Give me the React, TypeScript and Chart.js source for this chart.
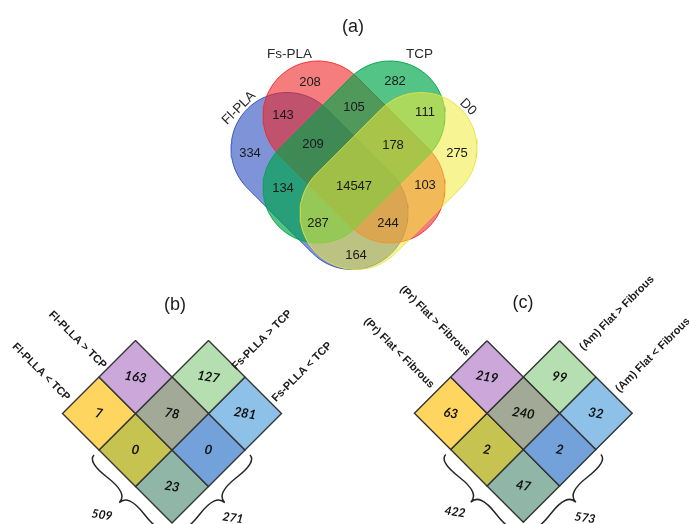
import React, { useEffect, useRef } from "react";
import { Chart, registerables } from "chart.js";
Chart.register(...registerables);

const W = 689;
const H = 524;

// ---------- Panel (a): four-set Venn ----------
const vennTitle = "(a)";
const vennSetNames = ["Fl-PLA", "Fs-PLA", "TCP", "D0"];
const vennRegionNames = [
  "Fl-PLA only", "Fs-PLA only", "TCP only", "D0 only",
  "Fl∩Fs", "Fs∩TCP", "TCP∩D0", "Fl∩Fs∩TCP", "Fs∩TCP∩D0",
  "Fl∩TCP", "All four", "Fs∩D0", "Fl∩TCP∩D0", "Fl∩Fs∩D0", "Fl∩D0",
];
const vennCounts = [334, 208, 282, 275, 143, 105, 111, 209, 178, 134, 14547, 103, 287, 244, 164];

// ---------- Panel (b) ----------
const panelBTitle = "(b)";
const panelBLabels = ["Fl-PLLA > TCP", "Fl-PLLA < TCP", "Fs-PLLA > TCP", "Fs-PLLA < TCP"];
const panelBCells = [163, 7, 78, 0, 127, 281, 0, 23];
const panelBTotals = [509, 271];

// ---------- Panel (c) ----------
const panelCTitle = "(c)";
const panelCLabels = ["(Pr) Flat > Fibrous", "(Pr) Flat < Fibrous", "(Am) Flat > Fibrous", "(Am) Flat < Fibrous"];
const panelCCells = [219, 63, 240, 2, 99, 32, 2, 47];
const panelCTotals = [422, 573];

// ---------- layout (positions / styles) ----------
const vennShapes = [
  { c1: [287, 148.5], c2: [352, 213.5], r: 56, fill: "rgba(40,75,190,0.6)", stroke: "rgba(40,75,190,0.9)", order: 10 },
  { c1: [318, 116], c2: [390, 188], r: 55, fill: "rgba(238,38,38,0.6)", stroke: "rgba(238,38,38,0.9)", order: 9 },
  { c1: [390, 116], c2: [318, 188], r: 55, fill: "rgba(0,165,75,0.67)", stroke: "rgba(0,165,75,0.95)", order: 8 },
  { c1: [421, 148.5], c2: [356, 213.5], r: 56, fill: "rgba(240,235,60,0.55)", stroke: "rgba(230,225,60,0.9)", order: 7 },
];
const vennCountPos = [
  [250, 153], [310, 82], [395, 81], [457, 153], [283, 115], [354, 107], [425, 112],
  [313, 144], [393, 145], [283, 188], [354, 186], [425, 185], [318, 223], [388, 223], [356, 255],
];
const vennSetLabelPos = [
  { x: 239, y: 108, rot: -45 },
  { x: 289.5, y: 54, rot: 0 },
  { x: 419.5, y: 54.5, rot: 0 },
  { x: 468, y: 107, rot: 45 },
];

const cellGrid = [[0, 0], [0, 1], [1, 0], [1, 1], [1, -1], [2, -1], [2, 0], [2, 1]];
const cellColors = ["#cca8da", "#fdd55f", "#a2aa97", "#c6c350", "#b6dfb1", "#8ec1e7", "#73a2db", "#8fb6a6"];

const panels = [
  {
    title: panelBTitle, titlePos: [175, 305], origin: [135.5, 377], a: 36.5,
    labels: panelBLabels, cells: panelBCells, totals: panelBTotals,
    labelPos: [
      { x: 77.5, y: 340, rot: 45 }, { x: 41, y: 372, rot: 45 },
      { x: 262, y: 340, rot: -45 }, { x: 302, y: 372, rot: -45 },
    ],
    totalPos: [[102, 515], [233, 518]],
  },
  {
    title: panelCTitle, titlePos: [523, 303], origin: [487, 377], a: 36.3,
    labels: panelCLabels, cells: panelCCells, totals: panelCTotals,
    labelPos: [
      { x: 435, y: 321, rot: 45 }, { x: 399, y: 353, rot: 45 },
      { x: 617, y: 313, rot: -45 }, { x: 653, y: 355, rot: -45 },
    ],
    totalPos: [[455, 512], [585, 518]],
  },
];

function stadium(c1: number[], c2: number[], r: number, n = 40) {
  const th = Math.atan2(c2[1] - c1[1], c2[0] - c1[0]);
  const pts: { x: number; y: number }[] = [];
  for (let i = 0; i <= n; i++) {
    const ang = th + Math.PI / 2 + (Math.PI * i) / n;
    pts.push({ x: c1[0] + r * Math.cos(ang), y: c1[1] + r * Math.sin(ang) });
  }
  for (let i = 0; i <= n; i++) {
    const ang = th - Math.PI / 2 + (Math.PI * i) / n;
    pts.push({ x: c2[0] + r * Math.cos(ang), y: c2[1] + r * Math.sin(ang) });
  }
  pts.push({ ...pts[0] });
  return pts;
}

function cellCenter(p: any, k: number) {
  const [i, j] = cellGrid[k];
  return [p.origin[0] + (i - j) * p.a, p.origin[1] + (i + j) * p.a];
}

function diamond(cx: number, cy: number, a: number) {
  return [
    { x: cx, y: cy - a }, { x: cx + a, y: cy }, { x: cx, y: cy + a }, { x: cx - a, y: cy }, { x: cx, y: cy - a },
  ];
}

const polyFillPlugin = {
  id: "polyFill",
  beforeDatasetDraw(chart: any, args: any) {
    const ds = chart.data.datasets[args.index];
    if (!ds.polyFill) return;
    const pts = args.meta.data;
    const ctx = chart.ctx;
    ctx.save();
    ctx.beginPath();
    pts.forEach((p: any, i: number) => (i ? ctx.lineTo(p.x, p.y) : ctx.moveTo(p.x, p.y)));
    ctx.closePath();
    ctx.fillStyle = ds.polyFill;
    ctx.fill();
    ctx.restore();
  },
};

function drawBrace(ctx: CanvasRenderingContext2D, A: number[], B: number[], w: number, q: number) {
  let dx = A[0] - B[0];
  let dy = A[1] - B[1];
  const len = Math.hypot(dx, dy);
  dx /= len;
  dy /= len;
  const qx1 = A[0] + q * w * dy, qy1 = A[1] - q * w * dx;
  const qx2 = A[0] - 0.25 * len * dx + (1 - q) * w * dy, qy2 = A[1] - 0.25 * len * dy - (1 - q) * w * dx;
  const tx = A[0] - 0.5 * len * dx + w * dy, ty = A[1] - 0.5 * len * dy - w * dx;
  const qx3 = B[0] + q * w * dy, qy3 = B[1] - q * w * dx;
  const qx4 = A[0] - 0.75 * len * dx + (1 - q) * w * dy, qy4 = A[1] - 0.75 * len * dy - (1 - q) * w * dx;
  ctx.beginPath();
  ctx.moveTo(A[0], A[1]);
  ctx.quadraticCurveTo(qx1, qy1, qx2, qy2);
  ctx.quadraticCurveTo(2 * qx2 - qx1, 2 * qy2 - qy1, tx, ty);
  ctx.moveTo(B[0], B[1]);
  ctx.quadraticCurveTo(qx3, qy3, qx4, qy4);
  ctx.quadraticCurveTo(2 * qx4 - qx3, 2 * qy4 - qy3, tx, ty);
  ctx.stroke();
}

const textPlugin = {
  id: "texts",
  afterDatasetsDraw(chart: any) {
    const ctx: CanvasRenderingContext2D = chart.ctx;
    const xs = chart.scales.x;
    const ys = chart.scales.y;
    const P = (x: number, y: number) => [xs.getPixelForValue(x), ys.getPixelForValue(y)];
    const text = (s: string, x: number, y: number, font: string, rot = 0, color = "#1c1c1c") => {
      const [px, py] = P(x, y);
      ctx.save();
      ctx.translate(px, py);
      ctx.rotate((rot * Math.PI) / 180);
      ctx.font = font;
      ctx.fillStyle = color;
      ctx.textAlign = "center";
      ctx.textBaseline = "middle";
      ctx.fillText(s, 0, 0);
      ctx.restore();
    };

    // Panel (a)
    text(vennTitle, 353, 27, "18px 'Liberation Sans', Arial, sans-serif");
    vennSetNames.forEach((n, i) => {
      const l = vennSetLabelPos[i];
      text(n, l.x, l.y, "13.5px 'Liberation Sans', Arial, sans-serif", l.rot, "#2a2a2a");
    });
    const anchorMeta = chart.getDatasetMeta(chart.data.datasets.findIndex((d: any) => d.id === "vennCounts"));
    anchorMeta.data.forEach((pt: any, i: number) => {
      ctx.save();
      ctx.font = "13px 'Liberation Sans', Arial, sans-serif";
      ctx.fillStyle = "#1a1a1a";
      ctx.textAlign = "center";
      ctx.textBaseline = "middle";
      ctx.fillText(String(vennCounts[i]), pt.x, pt.y);
      ctx.restore();
    });

    // Panels (b), (c)
    panels.forEach((p, pi) => {
      text(p.title, p.titlePos[0], p.titlePos[1], "18px 'Liberation Sans', Arial, sans-serif");
      p.labels.forEach((s, i) => {
        const l = p.labelPos[i];
        text(s, l.x, l.y, "bold 11px 'Liberation Sans', Arial, sans-serif", l.rot, "#1a1a1a");
      });
      const metaIdx = chart.data.datasets.findIndex((d: any) => d.id === "cells" + pi);
      p.cells.forEach((v, k) => {
        const meta = chart.getDatasetMeta(metaIdx + k);
        const pts = meta.data.slice(0, 4);
        const cx = pts.reduce((s: number, q: any) => s + q.x, 0) / 4;
        const cy = pts.reduce((s: number, q: any) => s + q.y, 0) / 4;
        ctx.save();
        ctx.translate(cx, cy);
        ctx.rotate((9 * Math.PI) / 180);
        ctx.font = "italic bold 13px Lato, 'Liberation Sans', sans-serif";
        ctx.fillStyle = "#111";
        ctx.textAlign = "center";
        ctx.textBaseline = "middle";
        ctx.fillText(String(v), 0, 0);
        ctx.restore();
      });
      // braces
      const a = p.a;
      const yC = cellCenter(p, 1);
      const bC = cellCenter(p, 7);
      const rC = cellCenter(p, 5);
      const off = 7 / Math.SQRT2;
      ctx.save();
      ctx.strokeStyle = "#262626";
      ctx.lineWidth = 1.5;
      const L1 = P(yC[0] - off, yC[1] + a + off);
      const L2 = P(bC[0] - off, bC[1] + a + off);
      drawBrace(ctx, L1, L2, 16, 0.6);
      const R1 = P(bC[0] + off, bC[1] + a + off);
      const R2 = P(rC[0] + off, rC[1] + a + off);
      drawBrace(ctx, R1, R2, 16, 0.6);
      ctx.restore();
      p.totals.forEach((v, i) => {
        text(String(v), p.totalPos[i][0], p.totalPos[i][1], "italic bold 12px Lato, 'Liberation Sans', sans-serif", 9, "#111");
      });
    });
  },
};

export default function App() {
  const ref = useRef<HTMLCanvasElement | null>(null);
  useEffect(() => {
    document.body.style.margin = "0";
    const datasets: any[] = [];
    vennShapes.forEach((s, i) => {
      datasets.push({
        type: "line",
        label: vennSetNames[i],
        data: stadium(s.c1, s.c2, s.r),
        showLine: true,
        fill: false,
        polyFill: s.fill,
        borderColor: s.stroke,
        borderWidth: 1,
        pointRadius: 0,
        tension: 0,
        order: s.order,
      });
    });
    panels.forEach((p, pi) => {
      p.cells.forEach((v, k) => {
        const [cx, cy] = cellCenter(p, k);
        datasets.push({
          type: "line",
          id: k === 0 ? "cells" + pi : undefined,
          label: (pi === 0 ? "b" : "c") + "-" + v,
          data: diamond(cx, cy, p.a),
          showLine: true,
          fill: false,
          polyFill: cellColors[k],
          borderColor: "#333333",
          borderWidth: 1.4,
          pointRadius: 0,
          tension: 0,
          order: 5,
        });
      });
    });
    datasets.push({
      type: "scatter",
      id: "vennCounts",
      label: "counts",
      data: vennCountPos.map(([x, y], i) => ({ x, y, name: vennRegionNames[i] })),
      pointRadius: 0,
      order: 0,
    });

    const chart = new Chart(ref.current!, {
      type: "scatter",
      data: { datasets },
      options: {
        animation: false,
        responsive: false,
        devicePixelRatio: 1,
        events: [],
        layout: { padding: 0 },
        plugins: { legend: { display: false }, tooltip: { enabled: false } },
        scales: {
          x: { type: "linear", min: 0, max: W, display: false },
          y: { type: "linear", min: 0, max: H, reverse: true, display: false },
        },
      },
      plugins: [polyFillPlugin, textPlugin],
    } as any);
    return () => chart.destroy();
  }, []);
  return (
    <div style={{ width: W, height: H, background: "#fff" }}>
      <canvas ref={ref} width={W} height={H} style={{ display: "block" }} />
    </div>
  );
}
